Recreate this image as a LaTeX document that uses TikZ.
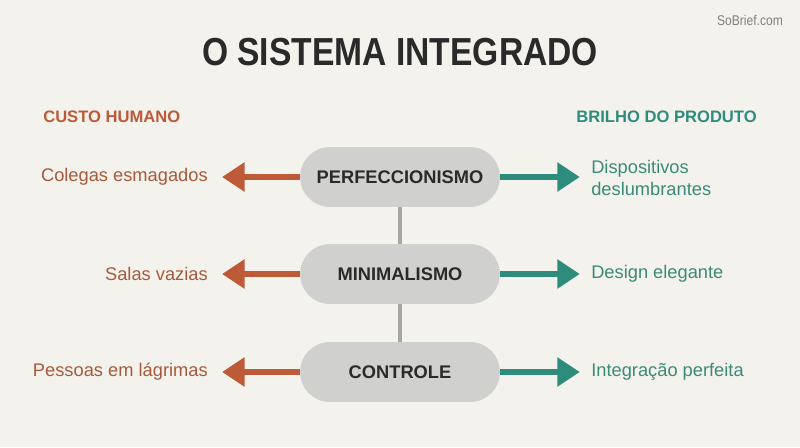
\documentclass[tikz,border=0pt]{standalone}
\usepackage{fontspec}
\setmainfont{Liberation Sans}
\newfontfamily\titlefont[FakeStretch=0.86]{Liberation Sans}
\usetikzlibrary{arrows.meta}

\definecolor{bgcol}{HTML}{F3F2EC}
\definecolor{costcol}{HTML}{BD5B38}
\definecolor{costtext}{HTML}{A85A3C}
\definecolor{prodcol}{HTML}{2E8C7C}
\definecolor{prodtext}{HTML}{3C8A7A}
\definecolor{pillcol}{HTML}{D0D0CF}
\definecolor{linkcol}{HTML}{A6A6A4}
\definecolor{inkcol}{HTML}{2A2A2A}

\tikzset{
  pill/.style={fill=pillcol, rounded corners=21pt, minimum width=142pt, minimum height=42.5pt,
    font=\fontsize{13}{15}\selectfont\bfseries, text=inkcol},
  colhead/.style={inner sep=0pt, font=\fontsize{11.8}{14}\selectfont\bfseries},
  costlabel/.style={anchor=east, inner sep=0pt, text=costtext, font=\fontsize{13}{15}\selectfont},
  prodlabel/.style={anchor=west, inner sep=0pt, text=prodtext, align=left, font=\fontsize{13}{15.5}\selectfont},
  costarrow/.style={costcol, line width=3.8pt, -{Triangle[length=16pt,width=20pt]}, shorten >=10pt},
  prodarrow/.style={prodcol, line width=3.8pt, -{Triangle[length=16pt,width=20pt]}, shorten >=8pt},
  link/.style={linkcol, line width=2.8pt}
}

\begin{document}
\begin{tikzpicture}[x=0.025cm, y=-0.025cm]
    % background
    \fill[bgcol] (0,0) rectangle (800,447);
    \useasboundingbox (0,0) rectangle (800,447);

    \node[text=gray, font=\titlefont\fontsize{10}{12}\selectfont] (brand) at (750,20) {SoBrief.com};
    \node[text=inkcol, font=\titlefont\fontsize{27.8}{30}\selectfont\bfseries] (title) at (400,52) {O SISTEMA INTEGRADO};

    \node[colhead, anchor=west, text=costcol] (costhead) at (43,117) {CUSTO HUMANO};
    \node[colhead, anchor=east, text=prodcol] (prodhead) at (757,117) {BRILHO DO PRODUTO};

    % central column
    \node[pill] (perf) at (400,177) {PERFECCIONISMO};
    \node[pill] (mini) at (400,274) {MINIMALISMO};
    \node[pill] (ctrl) at (400,372) {CONTROLE};
    \draw[link] (perf.south) -- (mini.north);
    \draw[link] (mini.south) -- (ctrl.north);

    % costs
    \node[costlabel] (cost1) at (208,177) {Colegas esmagados};
    \node[costlabel] (cost2) at (208,274) {Salas vazias};
    \node[costlabel] (cost3) at (208,372) {Pessoas em lágrimas};
    \draw[costarrow] (perf.west) -- (cost1.east);
    \draw[costarrow] (mini.west) -- (cost2.east);
    \draw[costarrow] (ctrl.west) -- (cost3.east);

    % products
    \node[prodlabel] (prod1) at (591,178) {Dispositivos\\deslumbrantes};
    \node[prodlabel] (prod2) at (591,274) {Design elegante};
    \node[prodlabel] (prod3) at (591,372) {Integração perfeita};
    \draw[prodarrow] (perf.east) -- (perf.east -| prod1.west);
    \draw[prodarrow] (mini.east) -- (prod2.west);
    \draw[prodarrow] (ctrl.east) -- (prod3.west);
\end{tikzpicture}
\end{document}
